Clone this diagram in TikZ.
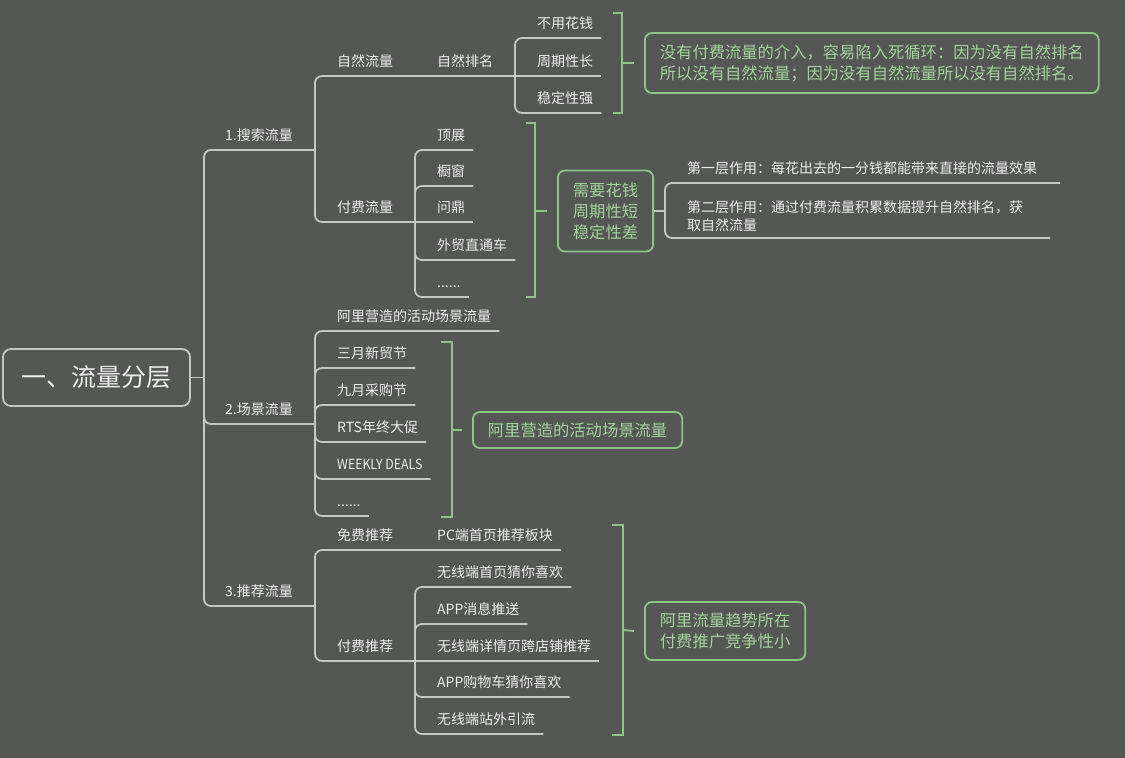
\documentclass[tikz,border=0pt]{standalone}
\usepackage{fontspec}
\setmainfont{Noto Sans CJK SC}
\definecolor{bg}{HTML}{555755}
\definecolor{ln}{HTML}{C6C6C4}
\definecolor{tx}{HTML}{EDEDED}
\definecolor{gr}{HTML}{8CC584}
\definecolor{gt}{HTML}{A2D39A}
\begin{document}
\begin{tikzpicture}[x=1pt,y=-1pt,
  gl/.style={draw=ln,line width=1.8pt,rounded corners=7pt},
  gn/.style={draw=gr,line width=1.8pt},
  lbl/.style={anchor=south west,inner xsep=8pt,inner ysep=0pt,text height=12pt,text depth=9pt,text=tx,font=\fontsize{14}{17}\selectfont},
  gbox/.style={draw=gr,line width=1.8pt,rounded corners=7pt,text=gt,font=\fontsize{16.3}{21}\selectfont,inner xsep=15pt,inner ysep=0pt,align=left,anchor=west}]
\fill[bg] (0,0) rectangle (1125,758);
\useasboundingbox (0,0) rectangle (1125,758);

% root
\node[draw=ln,line width=1.8pt,rounded corners=8pt,minimum width=187pt,minimum height=57pt,inner sep=0pt,text=tx,font=\fontsize{25}{30}\selectfont] (root) at (96.5,377.5) {一、流量分层};
\coordinate (jT) at (204,377.5);
\draw[gl] (root.east) -- (jT);

% level 1
\node[lbl] (s1) at (217,150) {1.搜索流量};
\node[lbl] (s2) at (217,424) {2.场景流量};
\node[lbl] (s3) at (217,606) {3.推荐流量};
\coordinate (jA) at (315,150);
\coordinate (jS) at (315,424);
\coordinate (jR) at (315,606);
\draw[gl] (jT) |- (jA);
\draw[gl] (jT) |- (jS);
\draw[gl] (jT) |- (jR);

% search: natural
\node[lbl] (a1) at (329,76) {自然流量};
\node[lbl] (a11) at (429,76) {自然排名};
\coordinate (jB) at (515,76);
\draw[gl] (jA) |- (jB);
\node[lbl] (b1) at (529,38) {不用花钱};
\node[lbl] (b2) at (529,76) {周期性长};
\node[lbl] (b3) at (529,113) {稳定性强};
\draw[gl] (jB) |- (b1.south east);
\draw[gl] (jB) -- (b2.south east);
\draw[gl] (jB) |- (b3.south east);
\node[gbox,minimum height=60pt] (box1) at (644,63) {没有付费流量的介入，容易陷入死循环：因为没有自然排名\\所以没有自然流量；因为没有自然流量所以没有自然排名。};
\draw[gn] (613,13) -- (622,13) -- (622,113) -- (613,113);
\draw[gn] (622,63) -- ([xshift=-10pt]box1.west);

% search: paid
\node[lbl] (a2) at (329,222) {付费流量};
\coordinate (jC) at (415,222);
\draw[gl] (jA) |- (jC);
\node[lbl] (c1) at (429,150) {顶展};
\node[lbl] (c2) at (429,186) {橱窗};
\node[lbl] (c3) at (429,222) {问鼎};
\node[lbl] (c4) at (429,260) {外贸直通车};
\node[lbl] (c5) at (429,297) {......};
\draw[gl] (jC) |- (c1.south east);
\draw[gl] (jC) |- (c2.south east);
\draw[gl] (jC) -- (c3.south east);
\draw[gl] (jC) |- (c4.south east);
\draw[gl] (jC) |- (c5.south east);
\node[gbox,minimum height=81pt] (box2) at (557,211) {需要花钱\\周期性短\\稳定性差};
\draw[gn] (526,123) -- (535,123) -- (535,297) -- (526,297);
\draw[gn] (535,211) -- ([xshift=-10pt]box2.west);
\coordinate (jD) at (665,211);
\draw[gl] (box2.east) -- (jD);
\node[lbl] (d1) at (679,183) {第一层作用：每花出去的一分钱都能带来直接的流量效果};
\node[anchor=north west,inner sep=0pt,align=left,text=tx,font=\fontsize{14}{18}\selectfont] (d2) at (687,200) {第二层作用：通过付费流量积累数据提升自然排名，获\\取自然流量};
\coordinate (d1e) at (1060,183);
\coordinate (d2e) at (1050,238);
\draw[gl] (jD) |- (d1e);
\draw[gl] (jD) |- (d2e);

% scene
\node[lbl] (e0) at (329,331) {阿里营造的活动场景流量};
\node[lbl] (e1) at (329,368) {三月新贸节};
\node[lbl] (e2) at (329,405) {九月采购节};
\node[lbl] (e3) at (329,442) {RTS年终大促};
\node[lbl] (e4) at (329,479) {\addfontfeature{FakeStretch=0.88}WEEKLY DEALS};
\node[lbl] (e5) at (329,516) {......};
\foreach \n in {e0,e1,e2,e3,e4,e5} \draw[gl] (jS) |- (\n.south east);
\node[gbox,minimum height=36pt] (box3) at (472,430) {阿里营造的活动场景流量};
\draw[gn] (441,342) -- (452,342) -- (452,517) -- (441,517);
\draw[gn] (452,430) -- ([xshift=-10pt]box3.west);

% recommend
\node[lbl] (f1) at (329,550) {免费推荐};
\node[lbl] (f11) at (429,550) {PC端首页推荐板块};
\draw[gl] (jR) |- (f11.south east);
\node[lbl] (f2) at (329,661) {付费推荐};
\coordinate (jP) at (415,661);
\draw[gl] (jR) |- (jP);
\node[lbl] (g1) at (429,587) {无线端首页猜你喜欢};
\node[lbl] (g2) at (429,624) {APP消息推送};
\node[lbl] (g3) at (429,661) {无线端详情页跨店铺推荐};
\node[lbl] (g4) at (429,697) {APP购物车猜你喜欢};
\node[lbl] (g5) at (429,734) {无线端站外引流};
\draw[gl] (jP) |- (g1.south east);
\draw[gl] (jP) |- (g2.south east);
\draw[gl] (jP) -- (g3.south east);
\draw[gl] (jP) |- (g4.south east);
\draw[gl] (jP) |- (g5.south east);
\node[gbox,minimum height=58pt] (box4) at (644,631) {阿里流量趋势所在\\付费推广竞争性小};
\draw[gn] (612,525) -- (623,525) -- (623,735) -- (612,735);
\draw[gn] (623,630) -- ([xshift=-10pt]box4.west);
\end{tikzpicture}
\end{document}
